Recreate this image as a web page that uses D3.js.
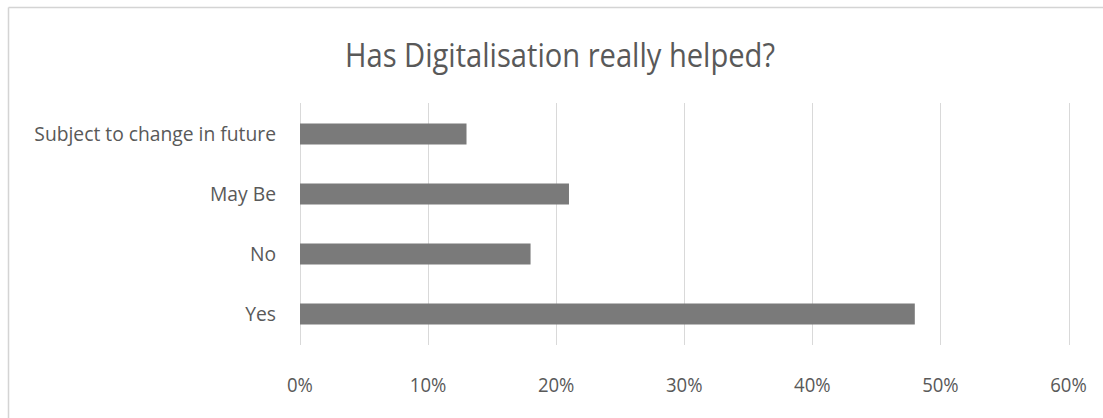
<!DOCTYPE html>
<html>
<head>
<meta charset="utf-8">
<script src="https://cdn.jsdelivr.net/npm/d3@7"></script>
<style>
  html, body { margin: 0; padding: 0; background: #fff; }
  svg { display: block; }
  text { font-family: "Open Sans", "Noto Sans", sans-serif; fill: #595959; }
</style>
</head>
<body>
<svg id="chart" width="1103" height="418"></svg>
<script>
const title = "Has Digitalisation really helped?";
const categories = ["Subject to change in future", "May Be", "No", "Yes"];
const values = [0.13, 0.21, 0.18, 0.48];
const tickValues = [0, 0.1, 0.2, 0.3, 0.4, 0.5, 0.6];

const svg = d3.select("#chart");
const W = 1103, H = 418;

// chart frame (top and left edges visible)
svg.append("line").attr("x1", 8.5).attr("x2", W).attr("y1", 7.5).attr("y2", 7.5)
  .attr("stroke", "#d4d4d4").attr("stroke-width", 1.5);
svg.append("line").attr("x1", 8.5).attr("x2", 8.5).attr("y1", 7.5).attr("y2", H)
  .attr("stroke", "#d4d4d4").attr("stroke-width", 1.5);

const x = d3.scaleLinear().domain([0, 0.6]).range([300, 1068.5]);
const y = d3.scaleBand().domain(categories).range([104, 344])
  .paddingInner(0.65).paddingOuter(0.325);

// gridlines
svg.append("g").selectAll("line").data(tickValues).join("line")
  .attr("x1", d => Math.round(x(d)) + 0.5).attr("x2", d => Math.round(x(d)) + 0.5)
  .attr("y1", 103).attr("y2", 345)
  .attr("stroke", "#d9d9d9").attr("stroke-width", 1);

// bars
svg.append("g").selectAll("rect").data(categories).join("rect")
  .attr("x", x(0))
  .attr("y", d => y(d))
  .attr("width", (d, i) => x(values[i]) - x(0))
  .attr("height", y.bandwidth())
  .attr("fill", "#7a7a7a");

function condense(sel, factor) {
  sel.each(function() {
    const w = this.getComputedTextLength();
    d3.select(this).attr("textLength", w * factor).attr("lengthAdjust", "spacingAndGlyphs");
  });
}

// category labels
const cat = svg.append("g").selectAll("text").data(categories).join("text")
  .attr("x", 276)
  .attr("y", d => y(d) + y.bandwidth() / 2)
  .attr("dy", "0.36em")
  .attr("text-anchor", "end")
  .attr("font-size", 20.5)
  .text(d => d);
condense(cat, 0.94);

// x tick labels
const xt = svg.append("g").selectAll("text").data(tickValues).join("text")
  .attr("x", d => x(d))
  .attr("y", 385)
  .attr("dy", "0.36em")
  .attr("text-anchor", "middle")
  .attr("font-size", 19.5)
  .text(d => d3.format(".0%")(d));
condense(xt, 0.95);

// title
const t = svg.append("text")
  .attr("x", 560).attr("y", 67)
  .attr("text-anchor", "middle")
  .attr("font-size", 32)
  .text(title);
t.attr("textLength", 430).attr("lengthAdjust", "spacingAndGlyphs");
</script>
</body>
</html>
